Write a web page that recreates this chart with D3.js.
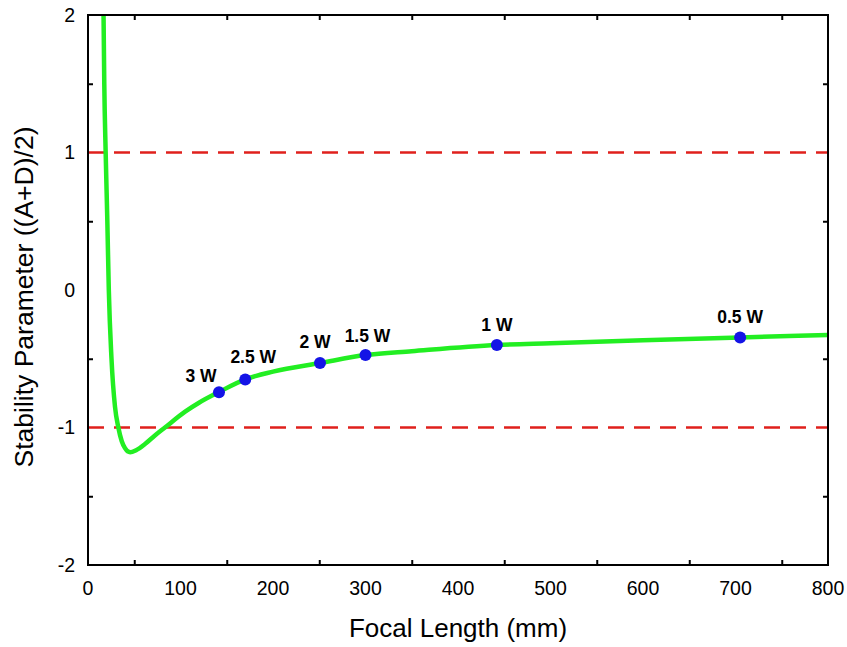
<!DOCTYPE html>
<html>
<head>
<meta charset="utf-8">
<script src="https://cdn.jsdelivr.net/npm/d3@7"></script>
<style>
  html, body { margin: 0; padding: 0; background: #fff; }
  svg text { font-family: 'Liberation Sans', Arial, sans-serif; }
</style>
</head>
<body>
<script>
// curve
const focalLengths = [16.8, 17.6, 19.1, 20.9, 22.5, 25.4, 29.2, 32.8, 36.5, 40, 45.5, 52, 61.6, 72, 83.2, 105, 120, 141, 170, 200, 251, 300, 350, 442, 500, 600, 705, 800]
const stability = [2, 1.5, 1, 0.5, 0, -0.5, -0.85, -1, -1.1, -1.15, -1.18, -1.165, -1.12, -1.06, -1.0, -0.885, -0.82, -0.744, -0.65, -0.594, -0.531, -0.473, -0.445, -0.40, -0.387, -0.366, -0.345, -0.327]

// operating points
const powerLabels = ['3 W', '2.5 W', '2 W', '1.5 W', '1 W', '0.5 W']
const powerFocal = [141.6, 170, 250.8, 300, 442, 705]
const powerStab = [-0.744, -0.651, -0.531, -0.473, -0.40, -0.345]
const labelOffsets = [[-18, -10], [8, -17], [-5, -15], [2, -13], [0, -14], [0, -14]]

const stabilityLimits = [1, -1]
const xTicks = [0, 100, 200, 300, 400, 500, 600, 700, 800]
const yTicks = [-2, -1, 0, 1, 2]

const width = 847, height = 647
const margin = { top: 15, right: 19, bottom: 82, left: 88 }

const svg = d3.select('body').append('svg')
    .attr('width', width)
    .attr('height', height)
    .attr('viewBox', [0, 0, width, height])

const x = d3.scaleLinear().domain([0, 800]).range([margin.left, width - margin.right])
const y = d3.scaleLinear().domain([-2, 2]).range([height - margin.bottom, margin.top])

const clipId = 'plot-clip'
svg.append('clipPath').attr('id', clipId)
    .append('rect')
        .attr('x', x(0))
        .attr('y', y(2))
        .attr('width', x(800) - x(0))
        .attr('height', y(-2) - y(2))

// limits
svg.append('g')
        .attr('stroke', '#e0201c')
        .attr('stroke-width', 2.5)
        .attr('stroke-dasharray', '16,10')
    .selectAll('line')
    .data(stabilityLimits)
    .join('line')
        .attr('x1', x(0))
        .attr('x2', x(800))
        .attr('y1', d => y(d))
        .attr('y2', d => y(d))

// curve
const curveData = focalLengths.map((f, i) => [f, stability[i]])
svg.append('path')
    .datum(curveData)
    .attr('clip-path', `url(#${clipId})`)
    .attr('fill', 'none')
    .attr('stroke', '#22ee22')
    .attr('stroke-width', 4.5)
    .attr('stroke-linejoin', 'round')
    .attr('d', d3.line().x(d => x(d[0])).y(d => y(d[1])).curve(d3.curveMonotoneX))

// points
svg.append('g')
    .selectAll('circle')
    .data(powerFocal)
    .join('circle')
        .attr('cx', d => x(d))
        .attr('cy', (d, i) => y(powerStab[i]))
        .attr('r', 6)
        .attr('fill', '#1414e6')

svg.append('g')
        .attr('font-size', 17.5)
        .attr('font-weight', 'bold')
        .attr('text-anchor', 'middle')
    .selectAll('text')
    .data(powerLabels)
    .join('text')
        .attr('x', (d, i) => x(powerFocal[i]) + labelOffsets[i][0])
        .attr('y', (d, i) => y(powerStab[i]) + labelOffsets[i][1])
        .text(d => d)

// axes, ticks inward on all four sides
const xMinor = d3.range(50, 800, 100)
const yMinor = [-1.5, -0.5, 0.5, 1.5]

function frameAxis(axisFn, scale, major, minor, transform) {
    const g = svg.append('g').attr('transform', transform)
    g.call(axisFn(scale).tickValues(major).tickSize(-10).tickFormat(''))
    g.call(axisFn(scale).tickValues(minor).tickSize(-5).tickFormat(''))
    g.selectAll('path').remove()
    g.selectAll('line').attr('stroke', '#000').attr('stroke-width', 2)
    return g
}
frameAxis(d3.axisBottom, x, xTicks, xMinor, `translate(0,${y(-2)})`)
frameAxis(d3.axisTop, x, xTicks, xMinor, `translate(0,${y(2)})`)
frameAxis(d3.axisLeft, y, yTicks, yMinor, `translate(${x(0)},0)`)
frameAxis(d3.axisRight, y, yTicks, yMinor, `translate(${x(800)},0)`)

svg.append('rect')
    .attr('x', x(0))
    .attr('y', y(2))
    .attr('width', x(800) - x(0))
    .attr('height', y(-2) - y(2))
    .attr('fill', 'none')
    .attr('stroke', '#000')
    .attr('stroke-width', 2)

// tick labels
svg.append('g')
        .attr('font-size', 19.5)
        .attr('text-anchor', 'middle')
    .selectAll('text')
    .data(xTicks)
    .join('text')
        .attr('x', d => x(d))
        .attr('y', y(-2) + 30)
        .text(d => d)

svg.append('g')
        .attr('font-size', 19.5)
        .attr('text-anchor', 'end')
    .selectAll('text')
    .data(yTicks)
    .join('text')
        .attr('x', x(0) - 13)
        .attr('y', d => y(d))
        .attr('dy', '0.35em')
        .text(d => d)

// titles
svg.append('text')
    .attr('x', (x(0) + x(800)) / 2)
    .attr('y', 637)
    .attr('text-anchor', 'middle')
    .attr('font-size', 26)
    .text('Focal Length (mm)')

svg.append('text')
    .attr('transform', `translate(33,297) rotate(-90)`)
    .attr('text-anchor', 'middle')
    .attr('font-size', 26.5)
    .text('Stability Parameter ((A+D)/2)')
</script>
</body>
</html>
